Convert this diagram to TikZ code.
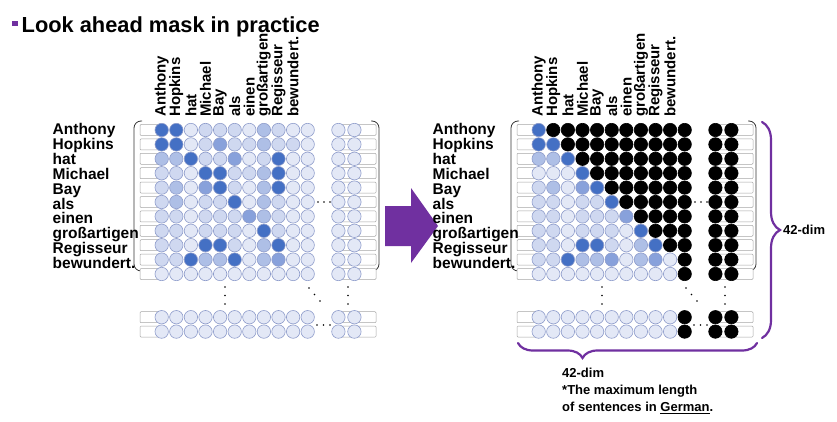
\documentclass[tikz,border=0pt]{standalone}
\usepackage{fontspec}
\setmainfont{Liberation Sans}
\usepackage{tikz}
\usetikzlibrary{decorations.pathreplacing}

\definecolor{mauve}{HTML}{7030A0}
\definecolor{shadeA}{HTML}{E3E8F6}
\definecolor{shadeB}{HTML}{CFD8F0}
\definecolor{shadeC}{HTML}{AEBFE6}
\definecolor{shadeD}{HTML}{88A1DB}
\definecolor{shadeE}{HTML}{4470C4}
\definecolor{cellline}{HTML}{8E9CCB}
\definecolor{barline}{HTML}{A6A6A6}

% one attention grid: #1 name, #2 shift, #3 tail value, #4 rows, #5 label x
\newcommand\maskgrid[5]{%
  \draw[frame] (#2+142,121) -| (#2+134,271) -- (#2+142,271);
  \draw[frame] (#2+371,121) -| (#2+379,271) -- (#2+371,271);
  \foreach \r/\vals in {#4} {
    \draw[bar] (#2+140,124.5+14.4*\r) rectangle (#2+162,135.5+14.4*\r);
    \draw[bar] (#2+339,124.5+14.4*\r) rectangle (#2+376,135.5+14.4*\r);
    \foreach \v [count=\c from 0] in \vals
      \node[cell, v\v] (#1-\r-\c) at (#2+161.7+14.6*\c, 130+14.4*\r) {};
    \node[cell, v#3] (#1-\r-11) at (#2+338.4, 130+14.4*\r) {};
    \node[cell, v#3] (#1-\r-12) at (#2+354.4, 130+14.4*\r) {};
  }
  % ellipsis marks
  \foreach \x/\y in {318/202, 324/202, 330/202, 317/325, 323.5/325, 330/325,
      225/287, 225/295.5, 225/304, 348/287, 348/295.5, 348/304,
      309/288, 314.5/294.5, 320/301}
    \fill (#2+\x,\y) circle (0.9);
  \foreach \w [count=\c from 0] in {Anthony,Hopkins,hat,Michael,Bay,als,einen,großartigen,Regisseur,bewundert.} {
    \node[word, rotate=90, anchor=west] (#1-top-\c) at (#2+161.7+14.6*\c, 117) {\w};
    \node[word, font=\fontsize{15.5}{15}\bfseries, anchor=base west] (#1-side-\c) at (#5, 134.5+14.9*\c) {\w};
  }
}

\begin{document}
\begin{tikzpicture}[x=1pt, y=-1pt,
    cell/.style={circle, draw=cellline, line width=0.6pt, minimum size=13.4pt, inner sep=0pt},
    v0/.style={fill=shadeA}, v1/.style={fill=shadeB}, v2/.style={fill=shadeC},
    v3/.style={fill=shadeD}, v4/.style={fill=shadeE},
    vk/.style={fill=black, draw=black},
    bar/.style={draw=barline, fill=white, line width=0.5pt, rounded corners=1pt},
    frame/.style={draw=black!80, line width=0.8pt, rounded corners=7pt},
    word/.style={font=\fontsize{15}{15}\bfseries, inner sep=0pt},
    note/.style={font=\fontsize{13}{17}\bfseries, inner sep=0pt},
    curly/.style={draw=mauve, line width=2.2pt, line cap=round, decorate}
]
    \useasboundingbox[fill=white] (0,0) rectangle (837,422);

    % title
    \fill[mauve] (12,21) rectangle (17.5,26.5);
    \node[anchor=base west, inner sep=0pt, font=\fontsize{21.8}{24}\bfseries] (title) at (21.5,33) {Look ahead mask in practice};

    % block arrow
    \fill[mauve] (385,206) -- (411,206) -- (411,188) -- (438,226)
        -- (411,263) -- (411,246) -- (385,246) -- cycle;

    % attention weights before masking
    \maskgrid{L}{0}{0}{
        0/{4,4,0,1,1,1,0,2,1,0,0},
        1/{4,4,0,1,3,1,1,2,1,1,0},
        2/{2,2,4,1,1,3,0,1,4,0,0},
        3/{1,1,0,4,4,1,1,2,4,0,0},
        4/{1,2,0,3,4,1,0,2,4,0,0},
        5/{1,2,0,1,1,4,0,2,1,0,0},
        6/{1,1,0,1,1,1,3,2,1,0,0},
        7/{1,1,0,1,1,1,0,4,1,0,0},
        8/{1,1,0,4,4,1,0,2,4,0,0},
        9/{1,1,4,2,2,4,0,2,3,0,0},
        10/{0,0,0,0,0,0,0,0,0,0,0},
        13/{0,0,0,0,0,0,0,0,0,0,0},
        14/{0,0,0,0,0,0,0,0,0,0,0}}{52.5}

    % attention weights after masking
    \maskgrid{R}{377}{k}{
        0/{4,k,k,k,k,k,k,k,k,k,k},
        1/{4,4,k,k,k,k,k,k,k,k,k},
        2/{2,2,4,k,k,k,k,k,k,k,k},
        3/{0,0,0,4,k,k,k,k,k,k,k},
        4/{1,2,0,3,4,k,k,k,k,k,k},
        5/{1,1,0,1,1,4,k,k,k,k,k},
        6/{1,1,0,1,1,1,3,k,k,k,k},
        7/{1,1,0,1,1,1,0,4,k,k,k},
        8/{1,1,0,4,4,1,0,2,4,k,k},
        9/{1,1,4,2,2,3,0,2,3,0,k},
        10/{0,0,0,0,0,0,0,0,0,0,k},
        13/{0,0,0,0,0,0,0,0,0,0,k},
        14/{0,0,0,0,0,0,0,0,0,0,k}}{432.5}

    % braces
    \coordinate (side-top) at (762,122);
    \coordinate (side-bot) at (762,338);
    \coordinate (foot-l) at (518,343);
    \coordinate (foot-r) at (757,343);
    \draw[curly, decoration={brace, amplitude=18pt, aspect=0.5}] (side-top) -- (side-bot);
    \draw[curly, decoration={brace, amplitude=15pt, aspect=0.27, mirror}] (foot-l) -- (foot-r);

    \node[note, anchor=west] (sidedim) at (783,230) {42-dim};
    \node[note, anchor=north west, align=left] (maxlen) at (562,368)
        {42-dim\\*The maximum length\\of sentences in \underline{German}.};
\end{tikzpicture}
\end{document}
